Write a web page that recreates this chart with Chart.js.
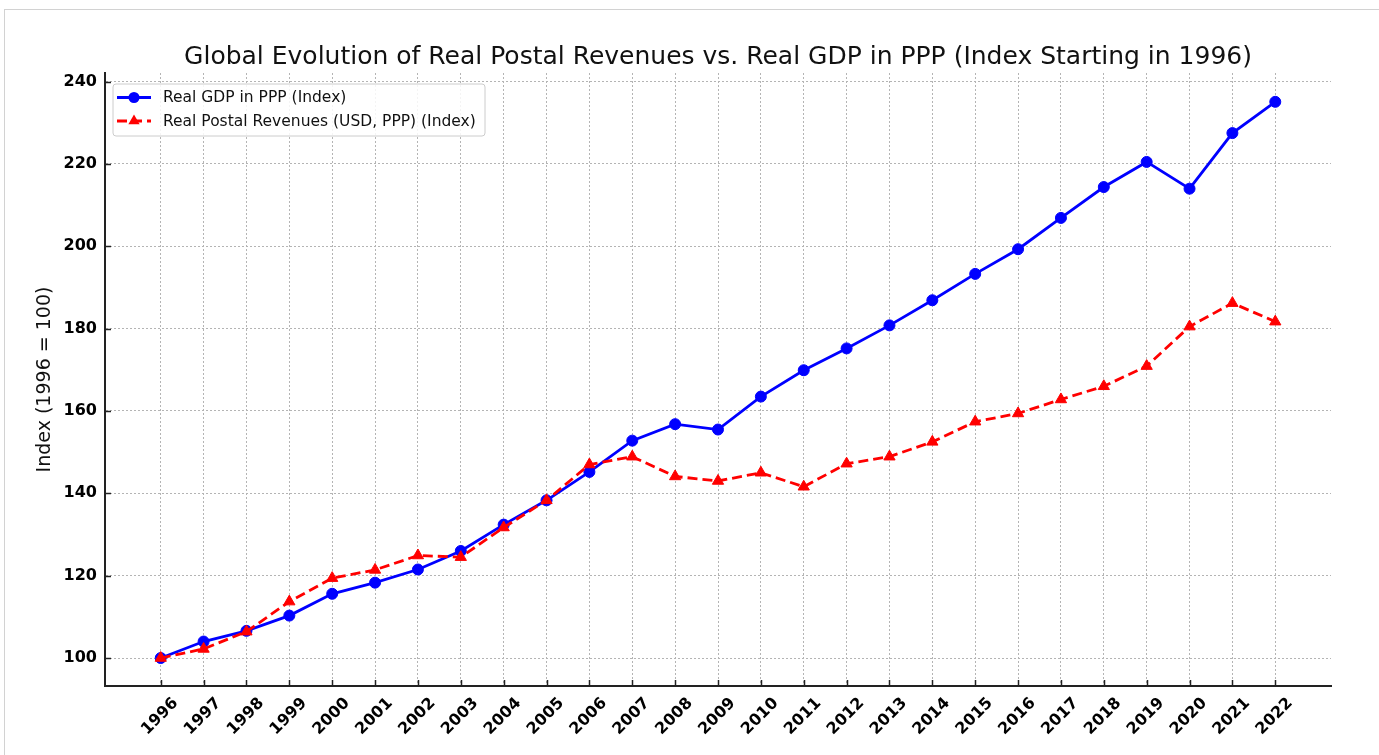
<!DOCTYPE html>
<html>
<head>
<meta charset="utf-8">
<script src="https://cdn.jsdelivr.net/npm/chart.js@4.4.0/dist/chart.umd.min.js"></script>
<style>
html,body{margin:0;padding:0;background:#fff;}
#wrap{position:relative;width:1379px;height:755px;overflow:hidden;background:#fff;}
#frame{position:absolute;left:4px;top:9px;width:1500px;height:900px;border-top:1px solid #d2d2d2;border-left:1px solid #d2d2d2;}
#c{position:absolute;left:0;top:0;}
</style>
</head>
<body>
<div id="wrap"><div id="frame"></div><canvas id="c" width="1379" height="755"></canvas></div>
<script>
// ---- data ----
const years = [1996,1997,1998,1999,2000,2001,2002,2003,2004,2005,2006,2007,2008,2009,2010,2011,2012,2013,2014,2015,2016,2017,2018,2019,2020,2021,2022];
const gdpIndex = [100.0,104.0,106.6,110.3,115.6,118.3,121.5,126.0,132.4,138.3,145.2,152.8,156.8,155.5,163.5,169.9,175.2,180.8,186.9,193.3,199.3,206.9,214.4,220.5,214.0,227.5,235.1];
const postalIndex = [100.0,102.2,106.4,113.7,119.4,121.4,124.9,124.5,131.7,138.3,147.0,148.9,144.1,143.0,145.0,141.6,147.2,148.9,152.5,157.4,159.4,162.8,166.0,170.9,180.5,186.2,181.7];
const yTicks = [100,120,140,160,180,200,220,240];
const seriesNames = ['Real GDP in PPP (Index)', 'Real Postal Revenues (USD, PPP) (Index)'];
const titleText = 'Global Evolution of Real Postal Revenues vs. Real GDP in PPP (Index Starting in 1996)';
const yAxisTitle = 'Index (1996 = 100)';

const FONT = "'DejaVu Sans', 'Liberation Sans', sans-serif";

const toPoints = (vals) => years.map((yr, i) => ({x: yr, y: vals[i]}));

// inward tick marks (matplotlib style 'in')
const innerTicks = {
  id: 'innerTicks',
  afterDatasetsDraw(chart) {
    const {ctx, chartArea, scales} = chart;
    ctx.save();
    ctx.strokeStyle = '#222';
    ctx.lineWidth = 1.5;
    ctx.setLineDash([]);
    scales.x.ticks.forEach(t => {
      const px = Math.round(scales.x.getPixelForValue(t.value)) + 0.5;
      ctx.beginPath(); ctx.moveTo(px, chartArea.bottom); ctx.lineTo(px, chartArea.bottom - 6); ctx.stroke();
    });
    scales.y.ticks.forEach(t => {
      const py = Math.round(scales.y.getPixelForValue(t.value)) + 0.5;
      ctx.beginPath(); ctx.moveTo(chartArea.left, py); ctx.lineTo(chartArea.left + 6, py); ctx.stroke();
    });
    ctx.restore();
  }
};

// boxed legend inside the plot, top-left
const boxLegend = {
  id: 'boxLegend',
  afterDraw(chart) {
    const {ctx, chartArea} = chart;
    const x = chartArea.left + 8, y = chartArea.top + 11, w = 372, h = 52, r = 3;
    ctx.save();
    ctx.beginPath();
    ctx.moveTo(x + r, y); ctx.lineTo(x + w - r, y); ctx.arcTo(x + w, y, x + w, y + r, r);
    ctx.lineTo(x + w, y + h - r); ctx.arcTo(x + w, y + h, x + w - r, y + h, r);
    ctx.lineTo(x + r, y + h); ctx.arcTo(x, y + h, x, y + h - r, r);
    ctx.lineTo(x, y + r); ctx.arcTo(x, y, x + r, y, r);
    ctx.closePath();
    ctx.fillStyle = 'rgba(255,255,255,0.85)';
    ctx.fill();
    ctx.strokeStyle = '#cccccc';
    ctx.lineWidth = 1;
    ctx.stroke();
    const rows = [y + 13.5, y + 37];
    chart.data.datasets.forEach((ds, i) => {
      const cy = rows[i];
      ctx.strokeStyle = ds.borderColor;
      ctx.lineWidth = ds.borderWidth;
      ctx.setLineDash(ds.borderDash || []);
      ctx.beginPath(); ctx.moveTo(x + 4, cy); ctx.lineTo(x + 38, cy); ctx.stroke();
      ctx.setLineDash([]);
      const mx = x + 21;
      ctx.fillStyle = ds.pointBackgroundColor;
      ctx.beginPath();
      if (ds.pointStyle === 'triangle') {
        const rr = ds.pointRadius;
        ctx.moveTo(mx, cy - rr);
        ctx.lineTo(mx + rr * 0.866, cy + rr * 0.5);
        ctx.lineTo(mx - rr * 0.866, cy + rr * 0.5);
        ctx.closePath();
      } else {
        ctx.arc(mx, cy, ds.pointRadius, 0, Math.PI * 2);
      }
      ctx.fill();
      ctx.fillStyle = '#111';
      ctx.font = '15.5px ' + FONT;
      ctx.textBaseline = 'middle';
      ctx.textAlign = 'left';
      ctx.fillText(ds.label, x + 50, cy + 0.5);
    });
    ctx.restore();
  }
};

const gridColor = '#b4b4b4';

new Chart(document.getElementById('c'), {
  type: 'line',
  data: {
    datasets: [
      {
        label: seriesNames[0],
        data: toPoints(gdpIndex),
        borderColor: '#0000ff',
        backgroundColor: '#0000ff',
        pointBackgroundColor: '#0000ff',
        pointBorderColor: '#0000ff',
        borderWidth: 2.8,
        pointStyle: 'circle',
        pointRadius: 5.5,
        pointBorderWidth: 1,
        tension: 0,
        order: 2,
        clip: false
      },
      {
        label: seriesNames[1],
        data: toPoints(postalIndex),
        borderColor: '#ff0000',
        backgroundColor: '#ff0000',
        pointBackgroundColor: '#ff0000',
        pointBorderColor: '#ff0000',
        borderWidth: 2.8,
        borderDash: [10, 5],
        pointStyle: 'triangle',
        pointRadius: 6.5,
        pointBorderWidth: 1,
        tension: 0,
        order: 1,
        clip: false
      }
    ]
  },
  options: {
    responsive: false,
    devicePixelRatio: 1,
    animation: false,
    events: [],
    layout: {padding: {left: 0, right: 48, top: 0, bottom: 0}},
    plugins: {
      legend: {display: false},
      tooltip: {enabled: false},
      title: {
        display: true,
        text: titleText,
        fullSize: false,
        color: '#111',
        font: {family: FONT, size: 25, weight: 'normal'},
        padding: {top: 42, bottom: 1}
      }
    },
    scales: {
      x: {
        type: 'linear',
        min: 1994.7,
        max: 2023.3,
        afterBuildTicks: (s) => { s.ticks = years.map(v => ({value: v})); },
        afterFit: (s) => { s.height = 69; },
        grid: {color: gridColor, lineWidth: 1, drawTicks: false},
        border: {display: true, color: '#222', width: 2, dash: [2, 2]},
        ticks: {
          autoSkip: false,
          minRotation: 45,
          maxRotation: 45,
          padding: 8,
          labelOffset: 15,
          color: '#000',
          font: {family: FONT, size: 16, weight: 'bold'},
          callback: (v) => String(v)
        }
      },
      y: {
        type: 'linear',
        min: 93.2,
        max: 242.1,
        afterBuildTicks: (s) => { s.ticks = yTicks.map(v => ({value: v})); },
        afterFit: (s) => { s.width = 105; },
        grid: {color: gridColor, lineWidth: 1, drawTicks: false},
        border: {display: true, color: '#222', width: 2, dash: [2, 2]},
        title: {
          display: true,
          text: yAxisTitle,
          color: '#111',
          font: {family: FONT, size: 19, weight: 'normal'},
          padding: {top: 34, bottom: 0}
        },
        ticks: {
          padding: 8,
          color: '#000',
          font: {family: FONT, size: 16, weight: 'bold'},
          callback: (v) => String(v)
        }
      }
    }
  },
  plugins: [innerTicks, boxLegend]
});
</script>
</body>
</html>
